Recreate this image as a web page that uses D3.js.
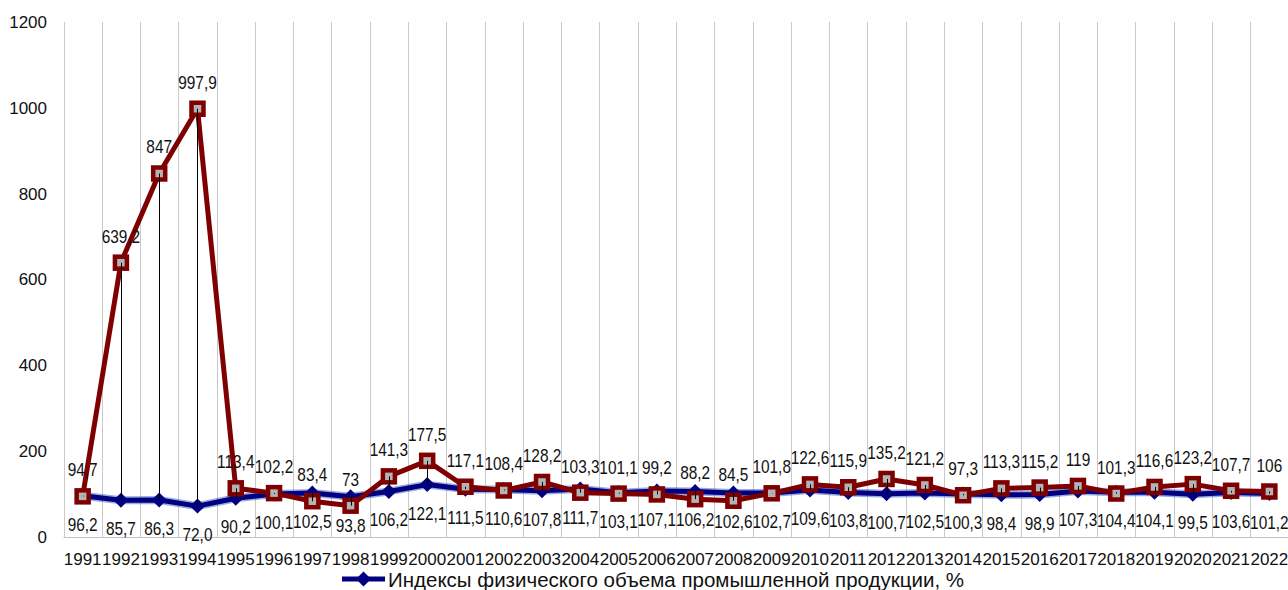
<!DOCTYPE html>
<html>
<head>
<meta charset="utf-8">
<script src="https://cdn.jsdelivr.net/npm/d3@7"></script>
<style>
  body { margin: 0; background: #fff; }
  svg { display: block; font-family: "Liberation Sans", Arial, sans-serif; }
</style>
</head>
<body>
<div id="root"></div>
<script>
const years = d3.range(1991, 2023).map(String)

// индексы физического объема промышленной продукции, %
const prodIndex = [96.2, 85.7, 86.3, 72.0, 90.2, 100.1, 102.5, 93.8, 106.2, 122.1, 111.5, 110.6, 107.8, 111.7, 103.1, 107.1,
  106.2, 102.6, 102.7, 109.6, 103.8, 100.7, 102.5, 100.3, 98.4, 98.9, 107.3, 104.4, 104.1, 99.5, 103.6, 101.2]

// второй ряд (в легенде не показан)
const priceIndex = [94.7, 639.2, 847, 997.9, 113.4, 102.2, 83.4, 73, 141.3, 177.5, 117.1, 108.4, 128.2, 103.3, 101.1, 99.2,
  88.2, 84.5, 101.8, 122.6, 115.9, 135.2, 121.2, 97.3, 113.3, 115.2, 119, 101.3, 116.6, 123.2, 107.7, 106]

const yTicks = [0, 200, 400, 600, 800, 1000, 1200]
const legendLabel = 'Индексы физического объема промышленной продукции, %'

const width = 1288
const height = 590
const margin = { top: 22, right: 0, bottom: 53, left: 63.5 }

const svg = d3.select('#root').append('svg')
  .attr('width', width)
  .attr('height', height)

const x = d3.scaleBand().domain(years).range([margin.left, 1288.5]).padding(0)
const y = d3.scaleLinear().domain([0, 1200]).range([height - margin.bottom, margin.top])
const cx = d => x(d) + x.bandwidth() / 2

const commaFmt = s => s.replace('.', ',')
const fmtProd = v => commaFmt(d3.format('.1f')(v))
const fmtPrice = v => commaFmt(String(v))

// vertical gridlines at category edges
const edges = years.map(d => x(d)).concat([x.range()[1]])
svg.append('g')
  .selectAll('line')
  .data(edges)
  .join('line')
  .attr('x1', d => Math.round(d) + 0.5)
  .attr('x2', d => Math.round(d) + 0.5)
  .attr('y1', y(1200))
  .attr('y2', y(0))
  .attr('stroke', '#c9c9c9')
  .attr('stroke-width', 1)

// horizontal axis line
svg.append('line')
  .attr('x1', margin.left).attr('x2', width)
  .attr('y1', Math.round(y(0)) + 0.5).attr('y2', Math.round(y(0)) + 0.5)
  .attr('stroke', '#bfbfbf')

// y axis labels
const yAxis = svg.append('g')
  .attr('transform', `translate(47,0)`)
  .call(d3.axisLeft(y).tickValues(yTicks).tickFormat(d3.format('d')).tickSize(0).tickPadding(0))
yAxis.select('.domain').remove()
yAxis.selectAll('text')
  .attr('font-size', 17)
  .attr('font-family', '"Liberation Sans", Arial, sans-serif')
  .attr('fill', '#111')

// x axis labels
const xAxis = svg.append('g')
  .attr('transform', `translate(0,${y(0)})`)
  .call(d3.axisBottom(x).tickSize(0).tickPadding(16))
xAxis.select('.domain').remove()
xAxis.selectAll('text')
  .attr('font-size', 17)
  .attr('font-family', '"Liberation Sans", Arial, sans-serif')
  .attr('fill', '#111')

const navy = '#000080'
const maroon = '#7f0000'

// blue series line
const lineProd = d3.line().x((d, i) => cx(years[i])).y(d => y(d))
svg.append('path')
  .datum(prodIndex)
  .attr('d', lineProd)
  .attr('fill', 'none')
  .attr('stroke', '#3a55c0')
  .attr('stroke-opacity', 0.5)
  .attr('stroke-width', 8)
  .attr('stroke-linejoin', 'round')
svg.append('path')
  .datum(prodIndex)
  .attr('d', lineProd)
  .attr('fill', 'none')
  .attr('stroke', navy)
  .attr('stroke-width', 5)
  .attr('stroke-linejoin', 'round')

const diamondPath = 'M0,-7.5L7.5,0L0,7.5L-7.5,0Z'
svg.append('g')
  .selectAll('path')
  .data(prodIndex)
  .join('path')
  .attr('d', diamondPath)
  .attr('transform', (d, i) => `translate(${cx(years[i])},${y(d)})`)
  .attr('fill', navy)

// red series
const linePrice = d3.line().x((d, i) => cx(years[i])).y(d => y(d))
svg.append('path')
  .datum(priceIndex)
  .attr('d', linePrice)
  .attr('fill', 'none')
  .attr('stroke', maroon)
  .attr('stroke-width', 5)
  .attr('stroke-linejoin', 'round')

svg.append('g')
  .selectAll('rect')
  .data(priceIndex)
  .join('rect')
  .attr('x', (d, i) => cx(years[i]) - 6)
  .attr('y', d => y(d) - 6)
  .attr('width', 12)
  .attr('height', 12)
  .attr('fill', '#b3b3b3')
  .attr('stroke', maroon)
  .attr('stroke-width', 4.5)

// high-low lines
svg.append('g')
  .selectAll('line')
  .data(years)
  .join('line')
  .attr('x1', d => Math.round(cx(d)) + 0.5)
  .attr('x2', d => Math.round(cx(d)) + 0.5)
  .attr('y1', (d, i) => y(priceIndex[i]))
  .attr('y2', (d, i) => y(prodIndex[i]))
  .attr('stroke', '#000')
  .attr('stroke-width', 1)

// data labels
const labelFont = 17.5
svg.append('g')
  .selectAll('text')
  .data(priceIndex)
  .join('text')
  .attr('transform', (d, i) => `translate(${cx(years[i])},${y(d) - 20}) scale(0.88,1)`)
  .attr('text-anchor', 'middle')
  .attr('font-size', labelFont)
  .attr('fill', '#111')
  .text(fmtPrice)

svg.append('g')
  .selectAll('text')
  .data(prodIndex)
  .join('text')
  .attr('transform', (d, i) => `translate(${cx(years[i])},${y(d) + 35}) scale(0.88,1)`)
  .attr('text-anchor', 'middle')
  .attr('font-size', labelFont)
  .attr('fill', '#111')
  .text(fmtProd)

// legend
const legend = svg.append('g').attr('transform', 'translate(342,579)')
legend.append('line')
  .attr('x1', 0).attr('x2', 43)
  .attr('stroke', navy).attr('stroke-width', 5)
legend.append('path')
  .attr('d', diamondPath)
  .attr('transform', 'translate(21.5,0)')
  .attr('fill', navy)
legend.append('text')
  .attr('x', 46)
  .attr('y', 8)
  .attr('font-size', 20.5)
  .attr('fill', '#111')
  .text(legendLabel)
</script>
</body>
</html>
